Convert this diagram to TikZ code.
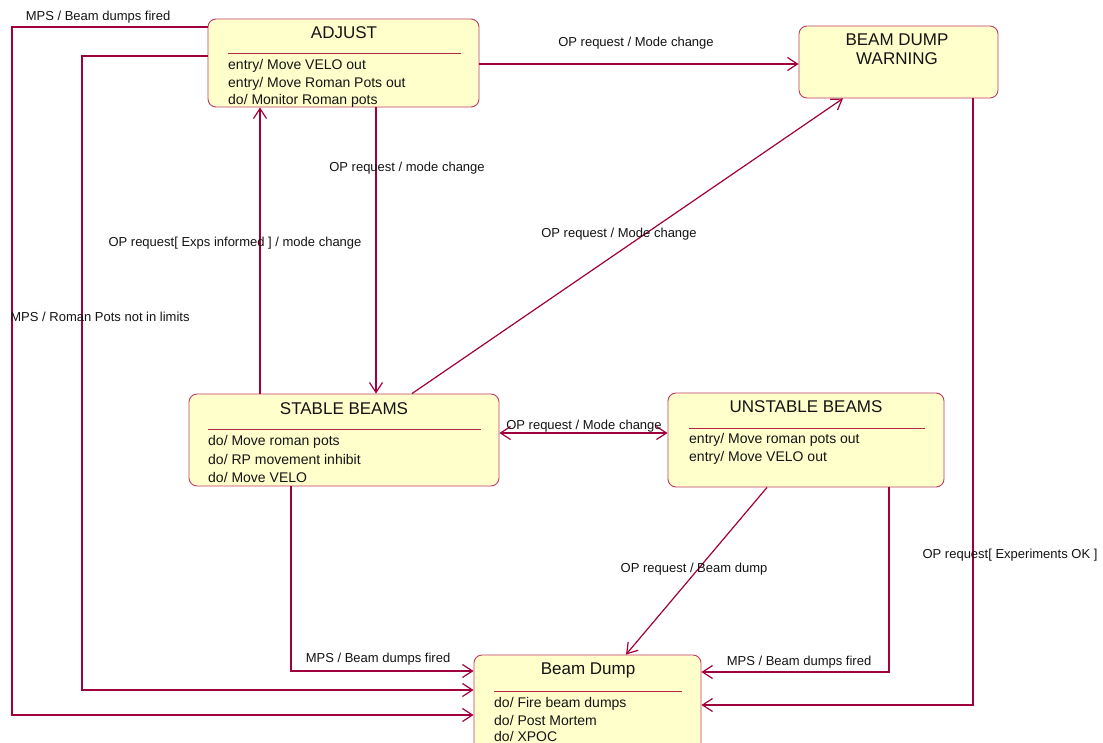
\documentclass[tikz,border=0pt]{standalone}
\usepackage{fontspec}
\setmainfont{Liberation Sans}
\usetikzlibrary{arrows.meta}
\definecolor{conn}{RGB}{160,0,60}
\definecolor{boxfill}{RGB}{255,255,204}
\definecolor{boxline}{RGB}{190,60,100}
\definecolor{sepline}{RGB}{180,40,70}
\definecolor{txt}{RGB}{20,20,20}
\tikzset{
  statebox/.style={draw=boxline, fill=boxfill, rounded corners=8pt, line width=0.9pt, inner sep=0pt},
  title/.style={font=\fontsize{17}{20}\selectfont, text=txt, inner sep=0pt, align=center},
  body/.style={font=\fontsize{14}{16}\selectfont, text=txt, inner sep=0pt, anchor=west},
  lbl/.style={font=\fontsize{13}{15}\selectfont, text=txt, inner sep=0pt},
  sep/.style={draw=sepline, line width=0.9pt},
  link/.style={draw=conn, line width=1.2pt, -{Straight Barb[length=10pt,width=13pt,line width=1.2pt]}},
  blink/.style={draw=conn, line width=1.2pt, {Straight Barb[length=10pt,width=13pt,line width=1.2pt]}-{Straight Barb[length=10pt,width=13pt,line width=1.2pt]}}
}
\begin{document}
\begin{tikzpicture}[x=1pt,y=-1pt]
\useasboundingbox (0,0) rectangle (1103,742);
\clip (0,0) rectangle (1103,742);
\fill[white] (0,0) rectangle (1103,742);

% boxes
\node[statebox, minimum width=271pt, minimum height=88pt] (adjust) at (343.5,63) {};
\node[statebox, minimum width=199pt, minimum height=72pt] (bdw) at (898.5,62) {};
\node[statebox, minimum width=310pt, minimum height=92pt] (stable) at (344,440) {};
\node[statebox, minimum width=276pt, minimum height=94pt] (unstable) at (806,440) {};
\node[statebox, minimum width=227pt, minimum height=110pt] (dump) at (587.5,710) {};

% ADJUST content
\node[title] (adjT) at (344,32.5) {ADJUST};
\draw[sep] (228,53) -- (461,53);
\node[body] (adj1) at (228,66) {entry/ Move VELO out};
\node[body] (adj2) at (228,84) {entry/ Move Roman Pots out};
\node[body] (adj3) at (228,101) {do/ Monitor Roman pots};

% BEAM DUMP WARNING content
\node[title] (bdwT1) at (897,39.5) {BEAM DUMP};
\node[title] (bdwT2) at (897,58.5) {WARNING};

% STABLE BEAMS content
\node[title] (stT) at (344,408.5) {STABLE BEAMS};
\draw[sep] (208,429) -- (481,429);
\node[body] (st1) at (208,442) {do/ Move roman pots};
\node[body] (st2) at (208,459) {do/ RP movement inhibit};
\node[body] (st3) at (208,477) {do/ Move VELO};

% UNSTABLE BEAMS content
\node[title] (unT) at (806,406.5) {UNSTABLE BEAMS};
\draw[sep] (689,428) -- (925,428);
\node[body] (un1) at (689,440) {entry/ Move roman pots out};
\node[body] (un2) at (689,458) {entry/ Move VELO out};

% Beam Dump content
\node[title] (dT) at (588,670.5) {Beam Dump};
\draw[sep] (494,691) -- (682,691);
\node[body] (d1) at (494,704) {do/ Fire beam dumps};
\node[body] (d2) at (494,720) {do/ Post Mortem};
\node[body] (d3) at (494,736.5) {do/ XPOC};

% connectors
\draw[link] (adjust.east |- 0,64) -- (bdw.west |- 0,64);
\draw[link] (adjust.south -| 376,0) -- (stable.north -| 376,0);
\draw[link] (stable.north -| 260,0) -- (adjust.south -| 260,0);
\draw[link] (stable.north -| 412,0) -- (bdw.south -| 843,0);
\draw[blink] (stable.east |- 0,433) -- (unstable.west |- 0,433);
\draw[link] (unstable.south -| 767,0) -- (dump.north -| 626,0);
\draw[link] (unstable.south -| 889,0) |- (dump.east |- 0,672);
\draw[link] (bdw.south -| 973,0) |- (dump.east |- 0,705);
\draw[link] (stable.south -| 291,0) |- (dump.west |- 0,671);
\draw[link] (adjust.west |- 0,56) -| (82,360) |- (dump.west |- 0,690);
\draw[link] (adjust.west |- 0,27) -| (12,360) |- (dump.west |- 0,715);

% labels
\node[lbl] (l1) at (98,17.5) {MPS / Beam dumps fired};
\node[lbl] (l2) at (636,43.5) {OP request / Mode change};
\node[lbl] (l3) at (407,168.5) {OP request / mode change};
\node[lbl] (l4) at (235,243.5) {OP request[ Exps informed ] / mode change};
\node[lbl] (l5) at (619,234.5) {OP request / Mode change};
\node[lbl] (l6) at (100,316.5) {MPS / Roman Pots not in limits};
\node[lbl] (l7) at (584,426.5) {OP request / Mode change};
\node[lbl] (l8) at (694,569.5) {OP request / Beam dump};
\node[lbl] (l9) at (1010,555.5) {OP request[ Experiments OK ]};
\node[lbl] (l10) at (378,659.5) {MPS / Beam dumps fired};
\node[lbl] (l11) at (799,662.5) {MPS / Beam dumps fired};
\end{tikzpicture}
\end{document}
